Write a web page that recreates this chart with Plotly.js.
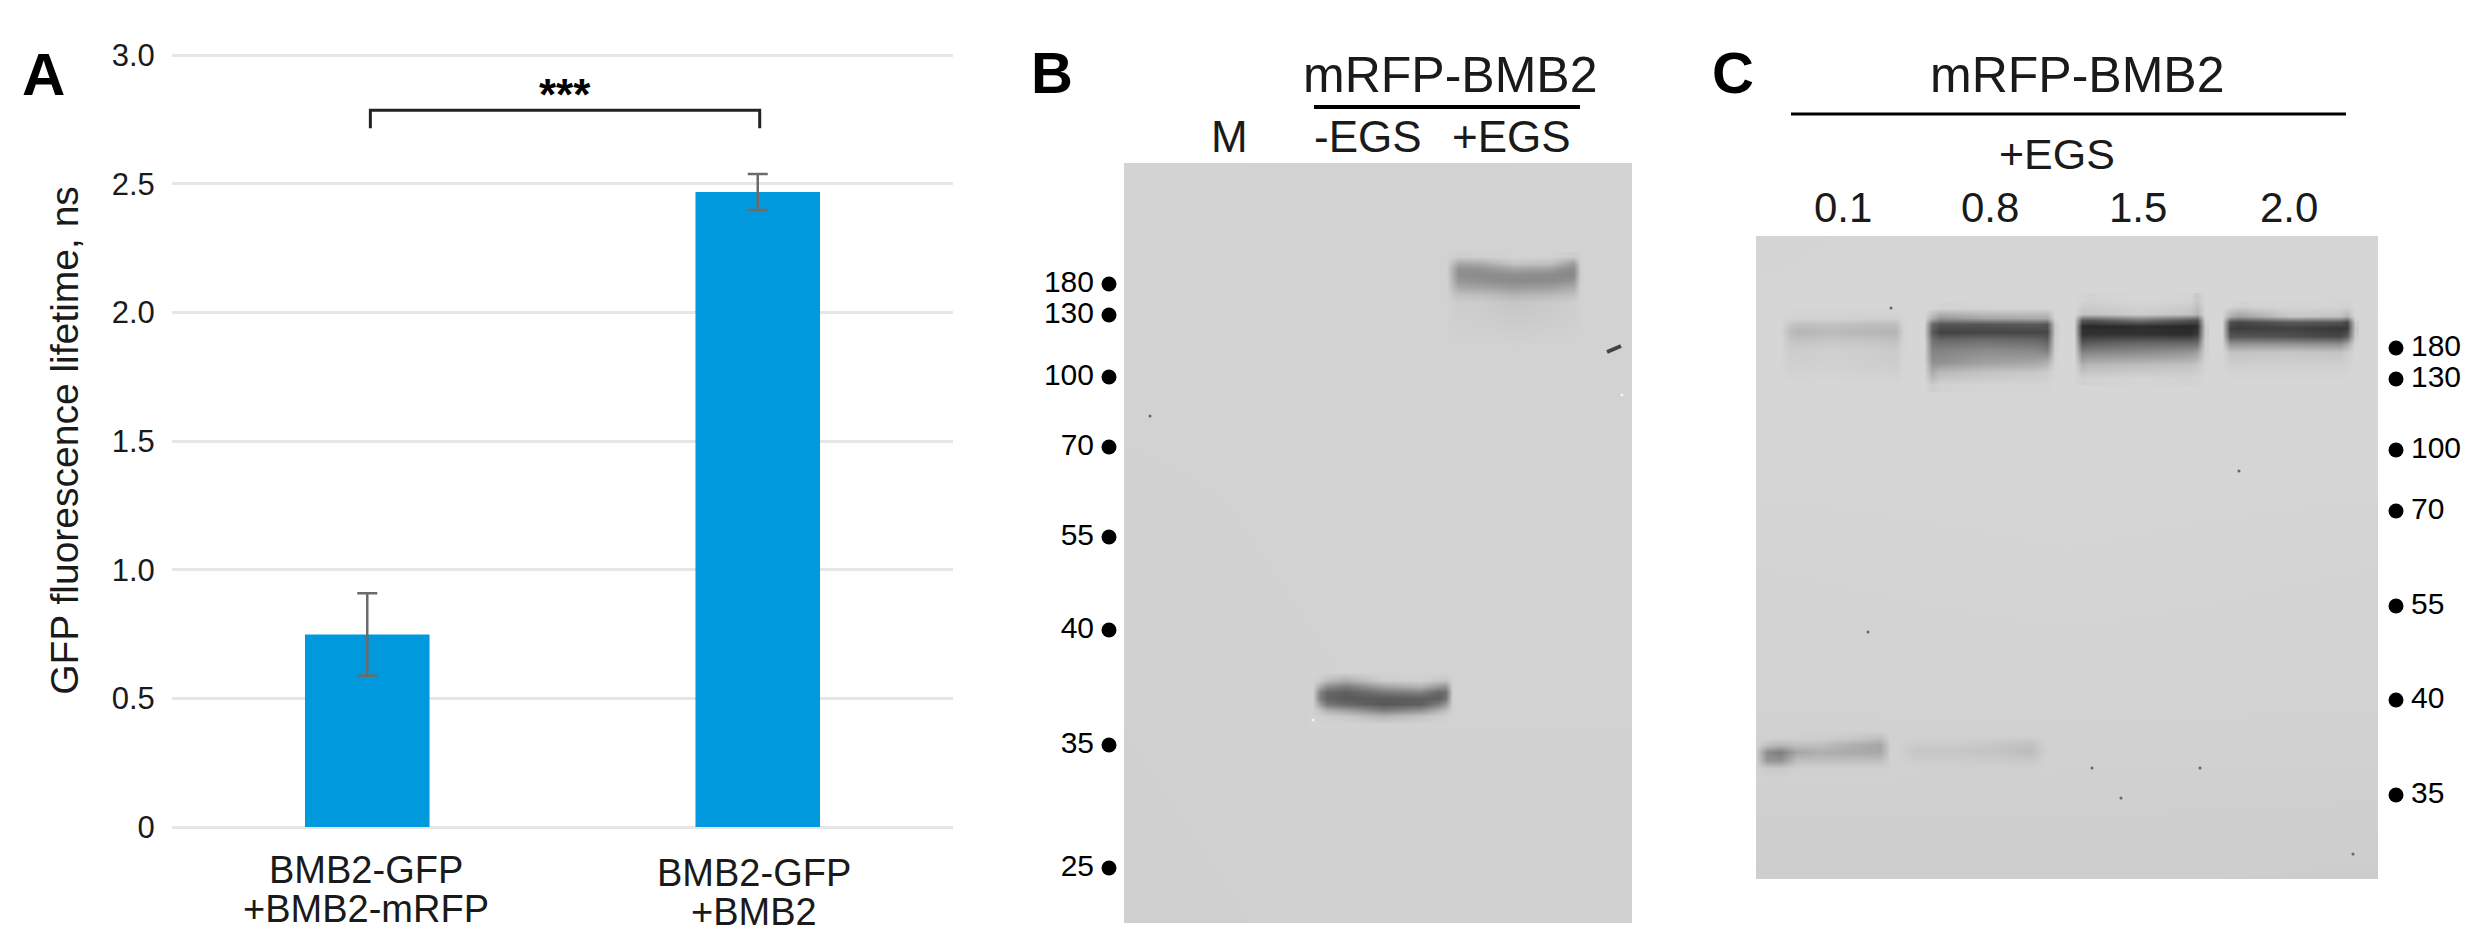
<!DOCTYPE html>
<html>
<head>
<meta charset="utf-8">
<script src="https://cdn.plot.ly/plotly-3.0.1.min.js"></script>
<style>body{margin:0;background:#fff}</style>
</head>
<body>
<div id="chart" style="width:2488px;height:946px"></div>
<script>
// Panel A values
const barX = [0, 1];
const lifetime = [0.748, 2.468];
const lifetimeErr = [0.16, 0.07];
const yTicks = [0, 0.5, 1, 1.5, 2, 2.5, 3];
const yTickText = ['0', '0.5', '1.0', '1.5', '2.0', '2.5', '3.0'];
const barLine1 = ['BMB2-GFP', 'BMB2-GFP'];
const barLine2 = ['+BMB2-mRFP', '+BMB2'];
const bracketX = [0.008, 0.008, 1.005, 1.005];
const bracketY = [2.715, 2.785, 2.785, 2.715];

// Ladders, migration read as image row
const ladderLabels = ['180', '130', '100', '70', '55', '40', '35', '25'];
const ladderRowB = [284, 315, 377, 447, 537, 630, 745, 868];
const ladderLabelsC = ['180', '130', '100', '70', '55', '40', '35'];
const ladderRowC = [348, 379, 450, 511, 606, 700, 795];

// Gel B grey levels (0-255)
const gelBx = [1124, 1378, 1632];
const gelBy = [163, 540, 923];
const gelBz = [
  [211, 210, 211],
  [209, 210, 210],
  [208, 209, 209]
];
const bandBplusX = [1446, 1453, 1458, 1480, 1513, 1550, 1567, 1573, 1580];
const bandBplusY = [256, 263, 268, 274, 280, 287, 294, 302, 345];
const bandBplusZ = [
  [210, 208, 206, 207, 210, 210, 205, 204, 210],
  [210, 185, 165, 170, 195, 190, 165, 155, 210],
  [210, 170, 145, 148, 165, 160, 142, 140, 208],
  [210, 170, 142, 140, 142, 140, 136, 138, 208],
  [210, 175, 150, 145, 138, 140, 145, 150, 208],
  [210, 185, 170, 165, 155, 160, 170, 172, 210],
  [210, 198, 192, 190, 180, 185, 190, 192, 210],
  [210, 206, 205, 204, 198, 202, 205, 206, 210],
  [210, 210, 210, 210, 210, 210, 210, 210, 210]
];
const bandBminusX = [1312, 1319, 1326, 1345, 1383, 1420, 1438, 1445, 1452];
const bandBminusY = [672, 680, 686, 692, 698, 704, 710, 716, 724];
const bandBminusZ = [
  [210, 210, 210, 210, 210, 210, 210, 210, 210],
  [210, 205, 190, 175, 205, 208, 200, 198, 210],
  [210, 175, 145, 125, 165, 180, 155, 150, 210],
  [210, 135, 105, 95, 120, 130, 105, 110, 210],
  [210, 130, 100, 90, 92, 95, 95, 115, 210],
  [210, 160, 120, 105, 88, 95, 125, 150, 210],
  [210, 195, 175, 160, 125, 145, 175, 190, 210],
  [210, 208, 205, 200, 180, 195, 205, 208, 210],
  [210, 210, 210, 210, 210, 210, 210, 210, 210]
];

// Gel C grey levels
const gelCx = [1756, 2066, 2378];
const gelCy = [236, 400, 600, 750, 879];
const gelCz = [
  [212, 214, 213],
  [214, 214, 214],
  [211, 212, 211],
  [209, 209, 209],
  [206, 206, 205]
];
const lane01x = [1780, 1789, 1798, 1830, 1870, 1895, 1903];
const lane01y = [306, 318, 324, 332, 340, 350, 365, 385];
const lane01z = [
  [214, 214, 214, 214, 214, 214, 214],
  [214, 212, 210, 210, 208, 208, 214],
  [214, 198, 192, 195, 190, 190, 212],
  [214, 190, 180, 186, 182, 180, 212],
  [214, 198, 195, 198, 196, 192, 212],
  [214, 205, 205, 207, 205, 202, 213],
  [214, 208, 208, 210, 207, 205, 214],
  [214, 214, 214, 214, 214, 214, 214]
];
const lane08x = [1924, 1932, 1940, 1985, 2035, 2047, 2055];
const lane08y = [308, 318, 324, 332, 340, 350, 362, 372, 385];
const lane08z = [
  [214, 214, 210, 212, 213, 212, 214],
  [214, 175, 150, 165, 170, 170, 214],
  [214, 105, 85, 85, 90, 85, 205],
  [214, 90, 65, 70, 70, 70, 206],
  [214, 115, 105, 110, 105, 95, 208],
  [214, 130, 130, 140, 135, 125, 210],
  [214, 145, 145, 160, 165, 175, 212],
  [214, 170, 185, 195, 200, 205, 214],
  [214, 205, 210, 212, 212, 212, 214]
];
const lane15x = [2074, 2082, 2090, 2140, 2190, 2197, 2205];
const lane15y = [300, 314, 320, 326, 334, 342, 352, 365, 378];
const lane15z = [
  [214, 212, 210, 214, 212, 200, 214],
  [214, 195, 195, 205, 195, 180, 214],
  [214, 90, 85, 115, 85, 80, 210],
  [214, 45, 40, 45, 40, 45, 205],
  [214, 50, 50, 50, 45, 60, 205],
  [214, 85, 90, 100, 100, 105, 208],
  [214, 130, 135, 140, 150, 160, 210],
  [214, 180, 185, 190, 195, 200, 212],
  [214, 208, 210, 212, 210, 210, 214]
];
const lane20x = [2222, 2230, 2238, 2290, 2340, 2347, 2355];
const lane20y = [306, 316, 322, 328, 336, 344, 352, 365, 380];
const lane20z = [
  [214, 213, 210, 212, 212, 210, 214],
  [214, 175, 160, 200, 195, 180, 214],
  [214, 80, 70, 90, 85, 70, 205],
  [214, 65, 60, 65, 55, 60, 200],
  [214, 85, 85, 80, 70, 90, 205],
  [214, 150, 150, 150, 145, 170, 212],
  [214, 195, 195, 198, 195, 205, 214],
  [214, 207, 207, 208, 208, 210, 214],
  [214, 214, 214, 214, 214, 214, 214]
];
const monomer01x = [1756, 1767, 1780, 1797, 1820, 1850, 1880, 1890];
const monomer01y = [730, 738, 745, 752, 760, 768, 778];
const monomer01z = [
  [209, 209, 209, 209, 209, 209, 209, 209],
  [209, 208, 207, 207, 205, 200, 190, 209],
  [209, 190, 180, 190, 190, 175, 165, 205],
  [205, 140, 125, 165, 175, 170, 168, 205],
  [207, 150, 145, 190, 190, 190, 190, 207],
  [209, 200, 200, 207, 207, 207, 207, 209],
  [209, 209, 209, 209, 209, 209, 209, 209]
];
const monomer08x = [1898, 1915, 1960, 2000, 2030, 2045];
const monomer08y = [735, 742, 750, 758, 768];
const monomer08z = [
  [209, 209, 209, 209, 209, 209],
  [209, 205, 205, 200, 195, 209],
  [209, 198, 198, 195, 188, 208],
  [209, 203, 203, 202, 198, 209],
  [209, 209, 209, 209, 209, 209]
];

// Specks on the membranes
const speckX = [1150, 1891, 2239, 1868, 2092, 2200, 2121, 2353];
const speckY = [416, 308, 471, 632, 768, 768, 798, 854];
const whiteSpeckX = [1313, 1652 - 30];
const whiteSpeckY = [720, 395];
const scratchX = [1607, 1621];
const scratchY = [352, 346];

const FONT = 'Liberation Sans, Arial, sans-serif';
const INK = '#1a1a1a';

function gelHeatmap(gel, x, y, z) {
  return {
    type: 'heatmap', x: x, y: y, z: z,
    xaxis: 'x' + gel, yaxis: 'y' + gel,
    zmin: 0, zmax: 255, zsmooth: 'best',
    colorscale: [[0, '#000000'], [1, '#ffffff']],
    showscale: false, hoverinfo: 'skip'
  };
}

// everything else on the gels sits on the full page axes x4/y4
function ladderDots(x, rows) {
  return {
    type: 'scatter', mode: 'markers', xaxis: 'x4', yaxis: 'y4',
    x: rows.map(() => x), y: rows,
    marker: { color: '#000', size: 15 }, hoverinfo: 'skip'
  };
}

function ladderText(x, rows, labels, pos) {
  return {
    type: 'scatter', mode: 'text', xaxis: 'x4', yaxis: 'y4',
    x: rows.map(() => x), y: rows, text: labels,
    textposition: pos,
    textfont: { family: FONT, size: 30, color: '#000' }, hoverinfo: 'skip'
  };
}

const traces = [
  {
    type: 'bar', x: barX, y: lifetime, width: 0.319,
    marker: { color: '#0099DD' },
    error_y: { type: 'data', array: lifetimeErr, visible: true, color: '#6b6b6b', thickness: 2.5, width: 10 }
  },
  {
    type: 'scatter', mode: 'lines', x: bracketX, y: bracketY,
    line: { color: '#222', width: 3 }, hoverinfo: 'skip'
  },
  gelHeatmap(2, gelBx, gelBy, gelBz),
  gelHeatmap(2, bandBplusX, bandBplusY, bandBplusZ),
  gelHeatmap(2, bandBminusX, bandBminusY, bandBminusZ),
  gelHeatmap(3, gelCx, gelCy, gelCz),
  gelHeatmap(3, lane01x, lane01y, lane01z),
  gelHeatmap(3, lane08x, lane08y, lane08z),
  gelHeatmap(3, lane15x, lane15y, lane15z),
  gelHeatmap(3, lane20x, lane20y, lane20z),
  gelHeatmap(3, monomer01x, monomer01y, monomer01z),
  gelHeatmap(3, monomer08x, monomer08y, monomer08z),
  {
    type: 'scatter', mode: 'markers', xaxis: 'x4', yaxis: 'y4', x: speckX, y: speckY,
    marker: { color: '#666', size: 3 }, hoverinfo: 'skip'
  },
  {
    type: 'scatter', mode: 'markers', xaxis: 'x4', yaxis: 'y4', x: whiteSpeckX, y: whiteSpeckY,
    marker: { color: '#f4f4f4', size: 3 }, hoverinfo: 'skip'
  },
  {
    type: 'scatter', mode: 'lines', xaxis: 'x4', yaxis: 'y4', x: scratchX, y: scratchY,
    line: { color: '#444', width: 4 }, hoverinfo: 'skip'
  },
  ladderDots(1109, ladderRowB),
  ladderText(1094, ladderRowB, ladderLabels, 'middle left'),
  ladderDots(2396, ladderRowC),
  ladderText(2411, ladderRowC, ladderLabelsC, 'middle right')
];

// text placed in page pixels through the full page axes
function label(text, x, y, size, bold) {
  return {
    text: bold ? '<b>' + text + '</b>' : text,
    xref: 'x4', yref: 'y4', x: x, y: y,
    showarrow: false, xanchor: 'center', yanchor: 'middle',
    font: { family: FONT, size: size, color: bold ? '#000' : INK }
  };
}

const annotations = [
  label('A', 43, 74, 60, true),
  label('B', 1052, 72, 58, true),
  label('C', 1733, 72, 58, true),
  label('***', 565, 94, 44, true),
  label(barLine1[0], 366, 870, 38),
  label(barLine2[0], 366, 909, 38),
  label(barLine1[1], 754, 873, 38),
  label(barLine2[1], 754, 912, 38),
  label('mRFP-BMB2', 1450, 75, 50),
  label('M', 1229, 136, 44),
  label('-EGS', 1368, 136, 44),
  label('+EGS', 1511, 136, 44),
  label('mRFP-BMB2', 2077, 75, 50),
  label('+EGS', 2057, 154, 43),
  label('0.1', 1843, 207, 42),
  label('0.8', 1990, 207, 42),
  label('1.5', 2138, 207, 42),
  label('2.0', 2289, 207, 42)
];

const shapes = [
  { type: 'line', xref: 'x4', yref: 'y4', x0: 1314, x1: 1580, y0: 107, y1: 107, line: { color: '#000', width: 4 } },
  { type: 'line', xref: 'x4', yref: 'y4', x0: 1791, x1: 2346, y0: 114, y1: 114, line: { color: '#000', width: 3 } }
];

const layout = {
  width: 2488, height: 946,
  margin: { l: 0, r: 0, t: 0, b: 0 },
  paper_bgcolor: '#fff', plot_bgcolor: 'rgba(0,0,0,0)',
  showlegend: false,
  xaxis: {
    domain: [172 / 2488, 953 / 2488], range: [-0.5, 1.5],
    showgrid: false, zeroline: false, showticklabels: false, ticks: ''
  },
  yaxis: {
    domain: [1 - 827 / 946, 1 - 54 / 946], range: [0, 3.004],
    tickvals: yTicks, ticktext: yTickText,
    tickfont: { family: FONT, size: 31, color: INK },
    ticks: 'outside', ticklen: 10, tickcolor: 'rgba(0,0,0,0)',
    gridcolor: '#e6e6e6', gridwidth: 3, zeroline: true, zerolinecolor: '#e6e6e6', zerolinewidth: 3,
    showline: false,
    title: { text: 'GFP fluorescence lifetime, ns', font: { family: FONT, size: 39, color: INK }, standoff: 21 }
  },
  xaxis2: { domain: [1124 / 2488, 1632 / 2488], range: [1124, 1632], visible: false, anchor: 'y2' },
  yaxis2: { domain: [1 - 923 / 946, 1 - 163 / 946], range: [923, 163], visible: false, anchor: 'x2' },
  xaxis3: { domain: [1756 / 2488, 2378 / 2488], range: [1756, 2378], visible: false, anchor: 'y3' },
  yaxis3: { domain: [1 - 879 / 946, 1 - 236 / 946], range: [879, 236], visible: false, anchor: 'x3' },
  xaxis4: { domain: [0, 1], range: [0, 2488], visible: false, anchor: 'y4' },
  yaxis4: { domain: [0, 1], range: [946, 0], visible: false, anchor: 'x4' },
  annotations: annotations,
  shapes: shapes
};

Plotly.newPlot('chart', traces, layout, { displayModeBar: false, staticPlot: true });
</script>
</body>
</html>
